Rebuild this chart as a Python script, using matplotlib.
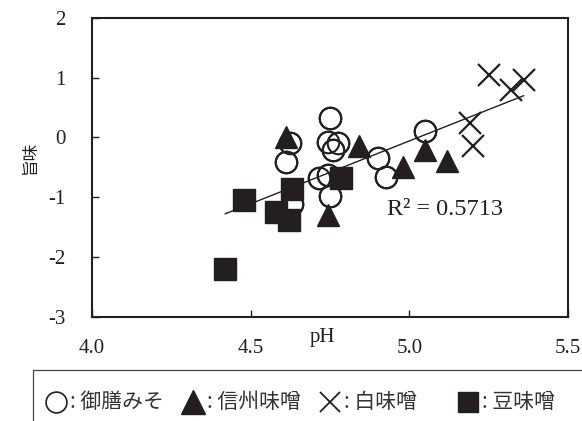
import numpy as np
import matplotlib
matplotlib.use("Agg")
import matplotlib.pyplot as plt
from matplotlib.patches import Rectangle
from matplotlib.lines import Line2D

# 御膳みそ
gozen_ph = [4.75, 4.745, 4.775, 4.76, 4.625, 4.61, 4.715, 4.745, 4.75, 4.63, 4.90, 4.925, 5.05]
gozen_umami = [0.33, -0.08, -0.10, -0.21, -0.10, -0.41, -0.67, -0.63, -0.98, -1.12, -0.35, -0.66, 0.11]
# 信州味噌
shinshu_ph = [4.61, 4.84, 4.745, 4.98, 5.05, 5.12]
shinshu_umami = [0.0, -0.15, -1.29, -0.49, -0.21, -0.40]
# 白味噌
shiro_ph = [5.25, 5.32, 5.36, 5.19, 5.20]
shiro_umami = [1.04, 0.79, 0.96, 0.24, -0.15]
# 豆味噌
mame_ph = [4.48, 4.63, 4.58, 4.62, 4.785, 4.42]
mame_umami = [-1.04, -0.87, -1.24, -1.38, -0.67, -2.19]

legend_labels = [": 御膳みそ", ": 信州味噌", ": 白味噌", ": 豆味噌"]
x_ticks = [4.0, 4.5, 5.0, 5.5]
y_ticks = [-3, -2, -1, 0, 1, 2]
r2_text = "R² = 0.5713"

black = "#231f20"
serif = ["Liberation Serif", "DejaVu Serif"]
cjk = ["Noto Sans CJK JP", "DejaVu Sans"]

fig = plt.figure(figsize=(5.82, 4.21), dpi=100)
ax = fig.add_axes([92 / 582, 1 - 317 / 421, 476 / 582, 299.3 / 421])

ms = 15.5
ax.plot(gozen_ph, gozen_umami, "o", ms=ms, mfc="white", mec=black, mew=1.5, zorder=3)
ax.plot(gozen_ph, gozen_umami, "o", ms=ms, mfc="none", mec=black, mew=1.5, zorder=4)
ax.plot(shinshu_ph, shinshu_umami, "^", ms=ms, color=black, zorder=5)
ax.plot(shiro_ph, shiro_umami, "x", ms=ms, color=black, mew=1.6, zorder=5)
ax.plot(mame_ph, mame_umami, "s", ms=16, color=black, zorder=5)

# 近似直線（全データ）
all_x = np.array(gozen_ph + shinshu_ph + shiro_ph + mame_ph)
all_y = np.array(gozen_umami + shinshu_umami + shiro_umami + mame_umami)
a, b = np.polyfit(all_x, all_y, 1)
xx = np.array([all_x.min(), all_x.max()])
ax.plot(xx, a * xx + b, color=black, lw=1.0, zorder=6)

ax.text(4.93, -1.21, r2_text, fontsize=17.5, family=serif, ha="left", va="center", color=black)

ax.set_xlim(4.0, 5.5)
ax.set_ylim(-3, 2)
ax.set_xticks(x_ticks)
ax.set_xticklabels(["%.1f" % t for t in x_ticks])
ax.set_yticks(y_ticks)
ax.set_yticklabels([str(t) for t in y_ticks])
ax.tick_params(direction="in", length=5, width=1.0, color=black)
ax.tick_params(axis="x", pad=16)
ax.tick_params(axis="y", pad=19)
for lab in ax.get_xticklabels() + ax.get_yticklabels():
    lab.set_family(serif)
    lab.set_fontsize(15)
    lab.set_color(black)
for sp in ax.spines.values():
    sp.set_linewidth(1.5)
    sp.set_color(black)

ax.text(0.485, -0.067, "pH", transform=ax.transAxes, ha="center", va="center",
        fontsize=15, family=serif, color=black)
fig.text(30 / 582, 1 - 157 / 421, "旨味", rotation=90, ha="center", va="center",
         fontsize=12, family=cjk, color=black)

# 凡例の枠
fig.add_artist(Rectangle((33 / 582, -0.1), 1.0, (421 - 370) / 421 + 0.1,
                         transform=fig.transFigure, fill=False, lw=0.9, edgecolor="#444444"))
ly = 1 - 402 / 421
marker_x = [56, 193, 330, 468]
styles = [dict(marker="o", ms=15, mfc="white", mec=black, mew=1.2),
          dict(marker="^", ms=17, color=black),
          dict(marker="x", ms=14, color=black, mew=1.3),
          dict(marker="s", ms=15, color=black)]
for mx, lab, st in zip(marker_x, legend_labels, styles):
    fig.add_artist(Line2D([mx / 582], [ly], transform=fig.transFigure, ls="none", **st))
    fig.text((mx + 14) / 582, ly, lab, ha="left", va="center", fontsize=15, family=cjk, color="#333333")

fig.savefig("out.png", dpi=100)
